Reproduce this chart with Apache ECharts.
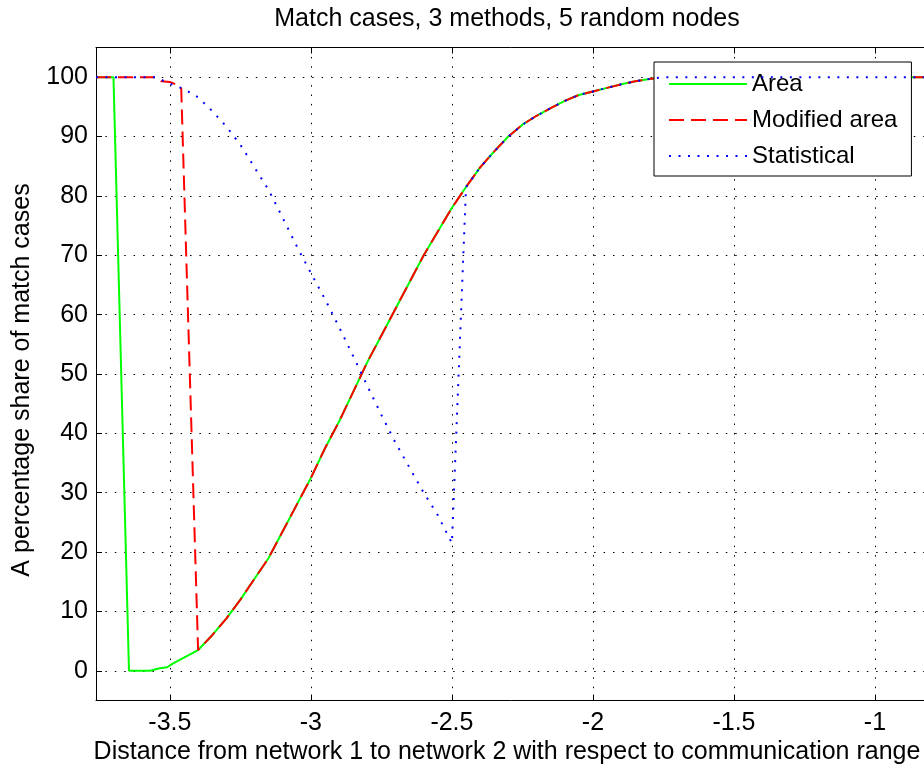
<!DOCTYPE html>
<html><head><meta charset="utf-8">
<script src="https://cdn.jsdelivr.net/npm/echarts@6/dist/echarts.min.js"></script>
<style>html,body{margin:0;padding:0;background:#fff}#c{width:924px;height:769px}</style>
</head><body><div id="c"></div><script>
const titleText = 'Match cases, 3 methods, 5 random nodes';
const xLabelText = 'Distance from network 1 to network 2 with respect to communication range';
const yLabelText = 'A percentage share of match cases';
const seriesNames = ['Area', 'Modified area', 'Statistical'];
const xTicks = [-3.5, -3, -2.5, -2, -1.5, -1];
const yTicks = [0, 10, 20, 30, 40, 50, 60, 70, 80, 90, 100];

// shared rising curve (Area and Modified area coincide here)
const commonX = [-3.40,-3.35,-3.30,-3.25,-3.20,-3.15,-3.10,-3.05,-3.00,-2.95,-2.90,-2.85,-2.80,-2.75,-2.70,-2.65,-2.60,-2.55,-2.50,-2.45,-2.40,-2.35,-2.30,-2.25,-2.20,-2.15,-2.10,-2.05,-2.00,-1.95,-1.90,-1.85,-1.80,-1.75,-0.50];
const commonY = [3.5,6,8.8,12,15.5,19,23.5,28,32.5,37.5,42,47,52,56.5,61,65.5,70,74,78,81.5,84.8,87.5,90,92,93.5,94.8,96,97,97.6,98.2,98.8,99.3,99.7,100,100];

const areaX = [-3.762,-3.70,-3.645,-3.57,-3.54,-3.51,-3.49];
const areaY = [100,100,0,0,0.4,0.6,1.2];
const modX = [-3.762,-3.55,-3.53,-3.50,-3.48,-3.46];
const modY = [100,100,99.3,99.2,98.8,98.3];
const statX = [-3.762,-3.55,-3.50,-3.45,-3.40,-3.35,-3.30,-3.25,-3.20,-3.15,-3.10,-3.05,-3.00,-2.95,-2.90,-2.85,-2.80,-2.75,-2.70,-2.65,-2.60,-2.55,-2.50];
const statY = [100,100,98.9,98.0,96.6,94.3,91.7,88.6,84.8,81,76.3,71.5,67,62.6,57.9,53,48,43.1,38.4,34.2,30,26.2,21.5];
const statJoinX = -2.45; // statistical rejoins the shared curve here

function pairs(xs, ys) { return xs.map((x, i) => [x, ys[i]]); }
const commonPairs = pairs(commonX, commonY);
const areaData = pairs(areaX, areaY).concat(commonPairs);
const modData = pairs(modX, modY).concat(commonPairs);
const statData = pairs(statX, statY).concat(commonPairs.filter(p => p[0] >= statJoinX - 1e-9));

const FONT = 'Liberation Sans, Arial, sans-serif';
const FS = 25;
const gridDot = { color: '#000', width: 1, type: [1.5, 7.9] };

const chart = echarts.init(document.getElementById('c'));
chart.setOption({
  animation: false,
  backgroundColor: '#fff',
  grid: { left: 96, top: 47.5, width: 920, height: 653, containLabel: false, outerBoundsMode: 'none' },
  xAxis: [{
    type: 'value', min: -3.762, max: -0.5, position: 'bottom',
    axisLine: { show: true, onZero: false, lineStyle: { color: '#000', width: 1 } },
    axisTick: { show: true, inside: true, length: 6, customValues: xTicks, lineStyle: { color: '#000' } },
    axisLabel: { show: true, customValues: xTicks, color: '#000', fontSize: FS, fontFamily: FONT, margin: 10 },
    splitLine: { show: true, lineStyle: gridDot }
  }, {
    type: 'value', min: -3.762, max: -0.5, position: 'top',
    axisLine: { show: true, onZero: false, lineStyle: { color: '#000', width: 1 } },
    axisTick: { show: true, inside: true, length: 6, customValues: xTicks, lineStyle: { color: '#000' } },
    axisLabel: { show: false },
    splitLine: { show: false }
  }],
  yAxis: [{
    type: 'value', min: -5, max: 105,
    axisLine: { show: true, onZero: false, lineStyle: { color: '#000', width: 1 } },
    axisTick: { show: true, inside: true, length: 6, customValues: yTicks, lineStyle: { color: '#000' } },
    axisLabel: { show: true, customValues: yTicks, color: '#000', fontSize: FS, fontFamily: FONT, margin: 8 },
    splitLine: { show: true, lineStyle: gridDot }
  }],
  legend: {
    show: true, orient: 'vertical', left: 654, top: 62,
    padding: [10, 14, 8, 14], itemGap: 12, itemWidth: 78, itemHeight: 14,
    backgroundColor: '#fff', borderColor: '#000', borderWidth: 1,
    itemStyle: { opacity: 0 },
    textStyle: { color: '#000', fontSize: 24, fontFamily: FONT, lineHeight: 24 },
    data: seriesNames
  },
  graphic: [
    { type: 'text', x: 507, y: 19, style: { text: titleText, font: FS + 'px ' + FONT, fill: '#000', align: 'center', verticalAlign: 'middle' } },
    { type: 'text', x: 507, y: 752, style: { text: xLabelText, font: FS + 'px ' + FONT, fill: '#000', align: 'center', verticalAlign: 'middle' } },
    { type: 'text', x: 22, y: 380, rotation: Math.PI / 2, style: { text: yLabelText, font: FS + 'px ' + FONT, fill: '#000', align: 'center', verticalAlign: 'middle' } }
  ],
  series: [
    { name: seriesNames[0], type: 'line', data: areaData, symbol: 'none', showSymbol: false, z: 2,
      lineStyle: { color: '#00ff00', width: 2, type: 'solid' }, itemStyle: { color: '#00ff00' } },
    { name: seriesNames[1], type: 'line', data: modData, symbol: 'none', showSymbol: false, z: 3,
      lineStyle: { color: '#ff0000', width: 2, type: [15, 7] }, itemStyle: { color: '#ff0000' } },
    { name: seriesNames[2], type: 'line', data: statData, symbol: 'none', showSymbol: false, z: 4,
      lineStyle: { color: '#0000ff', width: 2, type: [2, 7.5] }, itemStyle: { color: '#0000ff' } }
  ]
});
</script></body></html>
